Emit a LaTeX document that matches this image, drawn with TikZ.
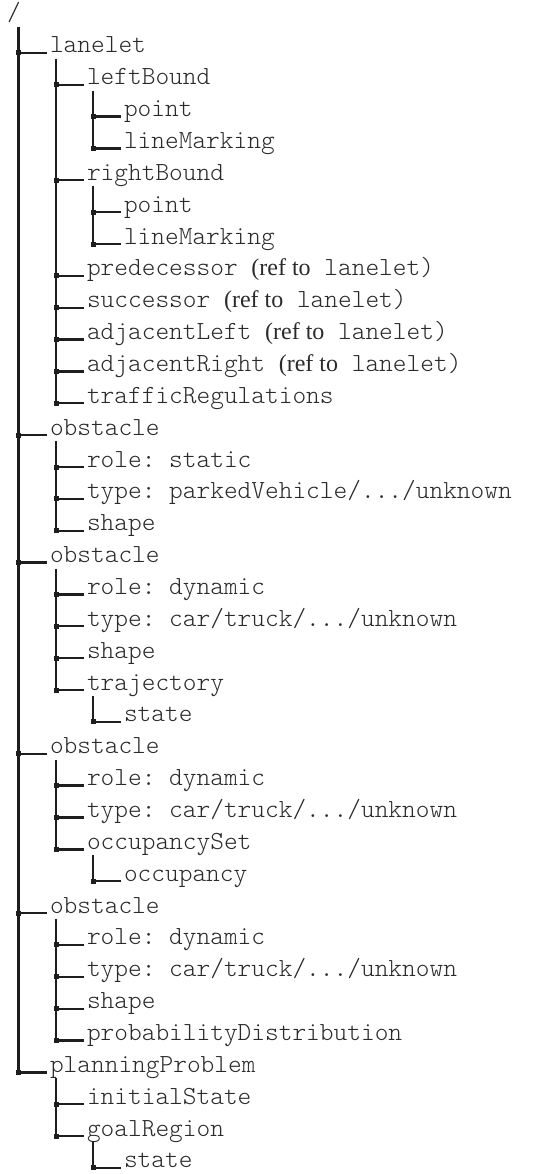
\documentclass[tikz,border=0pt]{standalone}
\usepackage{fontspec}
\setmainfont{Liberation Serif}
\setmonofont{Latin Modern Mono Light}
\definecolor{linec}{HTML}{1E1E1E}
\definecolor{textc}{HTML}{2A2A2A}
\newcommand\mystem[4]{% parent, last child, xshift, line width
  \coordinate (#1-s) at ([xshift=#3]#1.base west);
  \draw[linec, line width=#4] ([yshift=-6pt]#1-s) -- (#1-s |- #2.base);
}
\newcommand\mytwig[2]{% parent, child
  \draw[hline] (#1-s |- #2.base) -- ([xshift=-3pt]#2.base west);
  \fill[linec] (#1-s |- #2.base) +(-2.5pt,-2.5pt) rectangle +(2.5pt,2.5pt);
}
\newcommand\reft{{\rmfamily\fontsize{24}{24}\selectfont(ref to}}
\begin{document}
\begin{tikzpicture}[x=1pt,y=1pt,
  lbl/.style={anchor=base west, inner sep=0pt, outer sep=0pt, text=textc,
    font=\ttfamily\fontsize{26.1}{26.1}\selectfont},
  hline/.style={linec, line width=2.3pt}]
\useasboundingbox (0,0) rectangle (534,-1174);
\def\LA{7}\def\LB{50}\def\LC{87}\def\LD{124}
\node[lbl] (n0)  at (\LA,{-21-31.86*0})  {/};
\node[lbl] (n1)  at (\LB,{-21-31.86*1})  {lanelet};
\node[lbl] (n2)  at (\LC,{-21-31.86*2})  {leftBound};
\node[lbl] (n3)  at (\LD,{-21-31.86*3})  {point};
\node[lbl] (n4)  at (\LD,{-21-31.86*4})  {lineMarking};
\node[lbl] (n5)  at (\LC,{-21-31.86*5})  {rightBound};
\node[lbl] (n6)  at (\LD,{-21-31.86*6})  {point};
\node[lbl] (n7)  at (\LD,{-21-31.86*7})  {lineMarking};
\node[lbl] (n8)  at (\LC,{-21-31.86*8})  {predecessor \reft{} lanelet)};
\node[lbl] (n9)  at (\LC,{-21-31.86*9})  {successor \reft{} lanelet)};
\node[lbl] (n10) at (\LC,{-21-31.86*10}) {adjacentLeft \reft{} lanelet)};
\node[lbl] (n11) at (\LC,{-21-31.86*11}) {adjacentRight \reft{} lanelet)};
\node[lbl] (n12) at (\LC,{-21-31.86*12}) {trafficRegulations};
\node[lbl] (n13) at (\LB,{-21-31.86*13}) {obstacle};
\node[lbl] (n14) at (\LC,{-21-31.86*14}) {role: static};
\node[lbl] (n15) at (\LC,{-21-31.86*15}) {type: parkedVehicle/.../unknown};
\node[lbl] (n16) at (\LC,{-21-31.86*16}) {shape};
\node[lbl] (n17) at (\LB,{-21-31.86*17}) {obstacle};
\node[lbl] (n18) at (\LC,{-21-31.86*18}) {role: dynamic};
\node[lbl] (n19) at (\LC,{-21-31.86*19}) {type: car/truck/.../unknown};
\node[lbl] (n20) at (\LC,{-21-31.86*20}) {shape};
\node[lbl] (n21) at (\LC,{-21-31.86*21}) {trajectory};
\node[lbl] (n22) at (\LD,{-21-31.86*22}) {state};
\node[lbl] (n23) at (\LB,{-21-31.86*23}) {obstacle};
\node[lbl] (n24) at (\LC,{-21-31.86*24}) {role: dynamic};
\node[lbl] (n25) at (\LC,{-21-31.86*25}) {type: car/truck/.../unknown};
\node[lbl] (n26) at (\LC,{-21-31.86*26}) {occupancySet};
\node[lbl] (n27) at (\LD,{-21-31.86*27}) {occupancy};
\node[lbl] (n28) at (\LB,{-21-31.86*28}) {obstacle};
\node[lbl] (n29) at (\LC,{-21-31.86*29}) {role: dynamic};
\node[lbl] (n30) at (\LC,{-21-31.86*30}) {type: car/truck/.../unknown};
\node[lbl] (n31) at (\LC,{-21-31.86*31}) {shape};
\node[lbl] (n32) at (\LC,{-21-31.86*32}) {probabilityDistribution};
\node[lbl] (n33) at (\LB,{-21-31.86*33}) {planningProblem};
\node[lbl] (n34) at (\LC,{-21-31.86*34}) {initialState};
\node[lbl] (n35) at (\LC,{-21-31.86*35}) {goalRegion};
\node[lbl] (n36) at (\LD,{-21-31.86*36}) {state};
% stems
\mystem{n0}{n33}{11pt}{3pt}
\mystem{n1}{n12}{6pt}{2.2pt}
\mystem{n2}{n4}{6pt}{2.2pt}
\mystem{n5}{n7}{6pt}{2.2pt}
\mystem{n13}{n16}{6pt}{2.2pt}
\mystem{n17}{n21}{6pt}{2.2pt}
\mystem{n21}{n22}{6pt}{2.2pt}
\mystem{n23}{n26}{6pt}{2.2pt}
\mystem{n26}{n27}{6pt}{2.2pt}
\mystem{n28}{n32}{6pt}{2.2pt}
\mystem{n33}{n35}{6pt}{2.2pt}
\mystem{n35}{n36}{6pt}{2.2pt}
% twigs
\mytwig{n0}{n1}\mytwig{n0}{n13}\mytwig{n0}{n17}\mytwig{n0}{n23}\mytwig{n0}{n28}\mytwig{n0}{n33}
\mytwig{n1}{n2}\mytwig{n1}{n5}\mytwig{n1}{n8}\mytwig{n1}{n9}\mytwig{n1}{n10}\mytwig{n1}{n11}\mytwig{n1}{n12}
\mytwig{n2}{n3}\mytwig{n2}{n4}
\mytwig{n5}{n6}\mytwig{n5}{n7}
\mytwig{n13}{n14}\mytwig{n13}{n15}\mytwig{n13}{n16}
\mytwig{n17}{n18}\mytwig{n17}{n19}\mytwig{n17}{n20}\mytwig{n17}{n21}
\mytwig{n21}{n22}
\mytwig{n23}{n24}\mytwig{n23}{n25}\mytwig{n23}{n26}
\mytwig{n26}{n27}
\mytwig{n28}{n29}\mytwig{n28}{n30}\mytwig{n28}{n31}\mytwig{n28}{n32}
\mytwig{n33}{n34}\mytwig{n33}{n35}
\mytwig{n35}{n36}
\end{tikzpicture}
\end{document}
